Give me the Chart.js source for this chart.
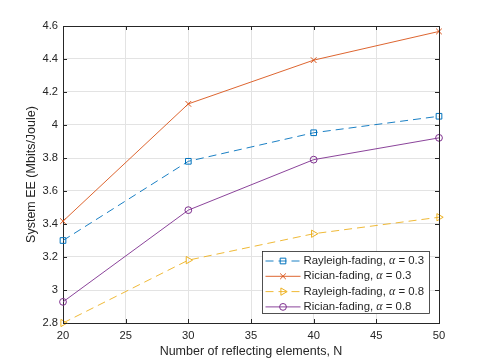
<!DOCTYPE html>
<html>
<head>
<meta charset="utf-8">
<script src="https://cdn.jsdelivr.net/npm/chart.js@4.4.1/dist/chart.umd.min.js"></script>
<style>
  html, body { margin: 0; padding: 0; background: #fff; }
  canvas { display: block; }
</style>
</head>
<body>
<canvas id="ee" width="485" height="363"></canvas>
<script>
// number of reflecting elements
const elementCounts = [20, 30, 40, 50];

// system EE (Mbits/Joule)
const rayleighA03 = [3.300, 3.780, 3.953, 4.053];
const ricianA03   = [3.417, 4.128, 4.393, 4.567];
const rayleighA08 = [2.800, 3.181, 3.341, 3.441];
const ricianA08   = [2.928, 3.484, 3.790, 3.922];

const xTicks = [20, 25, 30, 35, 40, 45, 50];
const yTicks = [2.8, 3.0, 3.2, 3.4, 3.6, 3.8, 4.0, 4.2, 4.4, 4.6];

const seriesNames = ['Rayleigh-fading', 'Rician-fading', 'Rayleigh-fading', 'Rician-fading'];
const seriesAlpha = ['0.3', '0.3', '0.8', '0.8'];

const AXIS = '#262626';
const FONT = '"Liberation Sans", Arial, sans-serif';

const toPoints = ys => elementCounts.map((x, i) => ({ x, y: ys[i] }));

const makeSet = (values, i, color, dash, pointStyle, radius, rotation) => ({
  label: seriesNames[i] + ', \u03b1 = ' + seriesAlpha[i],
  data: toPoints(values),
  borderColor: color,
  backgroundColor: 'rgba(0,0,0,0)',
  borderWidth: 0.9,
  borderDash: dash,
  tension: 0,
  pointStyle,
  pointRadius: radius,
  pointRotation: rotation || 0,
  pointBorderColor: color,
  pointBackgroundColor: 'rgba(0,0,0,0)',
  pointBorderWidth: 1,
  clip: false
});

// MATLAB-like box, inward ticks and legend
const matlabDecor = {
  id: 'matlabDecor',
  afterDraw(chart) {
    const { ctx, chartArea: a, scales } = chart;
    const tl = 4;
    ctx.save();
    ctx.strokeStyle = AXIS;
    ctx.lineWidth = 1;
    ctx.beginPath();
    xTicks.forEach(v => {
      const px = Math.round(scales.x.getPixelForValue(v)) + 0.5;
      ctx.moveTo(px, a.bottom); ctx.lineTo(px, a.bottom - tl);
      ctx.moveTo(px, a.top); ctx.lineTo(px, a.top + tl);
    });
    yTicks.forEach(v => {
      const py = Math.round(scales.y.getPixelForValue(v)) + 0.5;
      ctx.moveTo(a.left, py); ctx.lineTo(a.left + tl, py);
      ctx.moveTo(a.right, py); ctx.lineTo(a.right - tl, py);
    });
    ctx.stroke();
    ctx.beginPath();
    ctx.moveTo(Math.round(a.left) + 0.5, Math.round(a.top) + 0.5);
    ctx.lineTo(Math.round(a.right) + 0.5, Math.round(a.top) + 0.5);
    ctx.lineTo(Math.round(a.right) + 0.5, Math.round(a.bottom) + 0.5);
    ctx.stroke();

    // legend
    const w = 167, h = 62;
    const lx = Math.round(a.right - 10 - w) + 0.5;
    const ly = Math.round(a.bottom - 10 - h) + 0.5;
    ctx.fillStyle = '#fff';
    ctx.fillRect(lx, ly, w, h);
    ctx.strokeStyle = AXIS;
    ctx.lineWidth = 0.8;
    ctx.strokeRect(lx, ly, w, h);

    chart.data.datasets.forEach((ds, i) => {
      const cy = ly + 9.5 + i * 15.3;
      ctx.save();
      ctx.strokeStyle = ds.borderColor;
      ctx.fillStyle = 'rgba(0,0,0,0)';
      ctx.lineWidth = ds.borderWidth;
      ctx.setLineDash(ds.borderDash || []);
      ctx.beginPath();
      ctx.moveTo(lx + 3, cy);
      ctx.lineTo(lx + 38, cy);
      ctx.stroke();
      ctx.setLineDash([]);
      ctx.lineWidth = 1;
      Chart.helpers.drawPoint(ctx, {
        pointStyle: ds.pointStyle, radius: ds.pointRadius, rotation: ds.pointRotation, borderWidth: 1
      }, lx + 20.5, cy);
      ctx.restore();

      ctx.fillStyle = AXIS;
      ctx.textBaseline = 'middle';
      ctx.textAlign = 'left';
      let tx = lx + 41;
      const head = seriesNames[i] + ', ';
      ctx.font = '11.4px ' + FONT;
      ctx.fillText(head, tx, cy);
      tx += ctx.measureText(head).width;
      ctx.font = 'italic 12px "Liberation Serif", "DejaVu Serif", serif';
      ctx.fillText('\u03b1', tx, cy);
      tx += ctx.measureText('\u03b1').width;
      ctx.font = '11.4px ' + FONT;
      ctx.fillText(' = ' + seriesAlpha[i], tx, cy);
    });
    ctx.restore();
  }
};

new Chart(document.getElementById('ee').getContext('2d'), {
  type: 'line',
  data: {
    datasets: [
      makeSet(rayleighA03, 0, '#0072BD', [8, 5], 'rect', 4),
      makeSet(ricianA03, 1, '#D95319', [], 'crossRot', 4),
      makeSet(rayleighA08, 2, '#EDB120', [8, 5], 'triangle', 4.2, 90),
      makeSet(ricianA08, 3, '#7E2F8E', [], 'circle', 3.4)
    ]
  },
  options: {
    responsive: false,
    animation: false,
    devicePixelRatio: 1,
    layout: { padding: { left: 0, right: 46, top: 26, bottom: 0 } },
    plugins: { legend: { display: false }, tooltip: { enabled: false } },
    scales: {
      x: {
        type: 'linear',
        min: 20, max: 50,
        afterBuildTicks: s => { s.ticks = xTicks.map(value => ({ value })); },
        afterFit: s => { s.height = 40; },
        grid: { color: '#e3e3e3', drawTicks: false },
        border: { color: AXIS, width: 1 },
        ticks: { color: AXIS, font: { family: FONT, size: 11.2 }, padding: 6, maxRotation: 0,
          callback: v => String(v) },
        title: { display: true, text: 'Number of reflecting elements, N', color: AXIS,
          font: { family: FONT, size: 12.5 }, padding: { top: 0, bottom: 4 } }
      },
      y: {
        min: 2.8, max: 4.6,
        afterBuildTicks: s => { s.ticks = yTicks.map(value => ({ value })); },
        afterFit: s => { s.width = 63; },
        grid: { color: '#e3e3e3', drawTicks: false },
        border: { color: AXIS, width: 1 },
        ticks: { color: AXIS, font: { family: FONT, size: 11.2 }, padding: 5,
          callback: v => String(+v.toFixed(1)) },
        title: { display: true, text: 'System EE (Mbits/Joule)', color: AXIS,
          font: { family: FONT, size: 12.5 }, padding: { top: 24, bottom: 0 } }
      }
    }
  },
  plugins: [matlabDecor]
});
</script>
</body>
</html>
